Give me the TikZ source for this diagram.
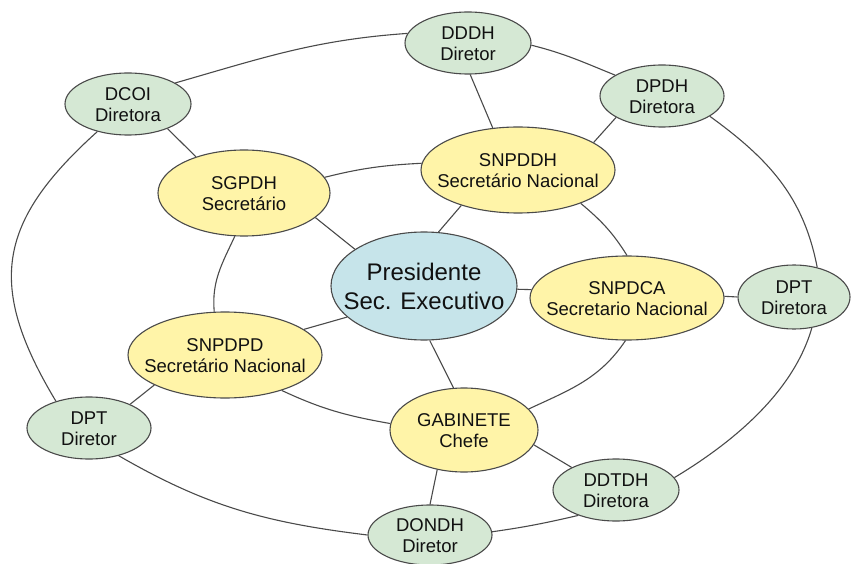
\documentclass[tikz,border=0pt]{standalone}
\usepackage{fontspec}
\setmainfont{Liberation Sans}
\usetikzlibrary{shapes.geometric}
\definecolor{gfill}{HTML}{D5E8D4}
\definecolor{yfill}{HTML}{FFF4A8}
\definecolor{bfill}{HTML}{C6E4EA}
\definecolor{edgec}{HTML}{4A4A4A}
\definecolor{txtc}{HTML}{111111}
\newcommand\mytwo[3][-7pt]{\makebox[0pt]{\raisebox{#1}[0pt][0pt]{\begin{tabular}{@{}c@{}}#2\\#3\end{tabular}}}}
\begin{document}
\begin{tikzpicture}[x=1pt,y=1pt,
  base/.style={ellipse, draw=edgec, line width=1.1pt, inner sep=0pt, text=txtc,
    font=\fontsize{18.5}{21}\selectfont},
  gnode/.style={base, fill=gfill, minimum width=126pt, minimum height=62pt},
  ynode/.style={base, fill=yfill, minimum width=194pt, minimum height=86pt},
  bnode/.style={base, fill=bfill, minimum width=186pt, minimum height=108pt,
    font=\fontsize{24}{29}\selectfont},
  link/.style={draw=edgec, line width=1.1pt}]
\useasboundingbox (0,0) rectangle (851,563);
\fill[white] (0,0) rectangle (851,563);

% nodes
\node[gnode] (dddh) at (468,520) {\mytwo{DDDH}{Diretor}};
\node[gnode, minimum width=124pt] (dpdh) at (662,467) {\mytwo{DPDH}{Diretora}};
\node[gnode] (dcoi) at (128,459) {\mytwo{DCOI}{Diretora}};
\node[ynode, minimum width=172pt] (sgpdh) at (244,370) {\mytwo{SGPDH}{Secretário}};
\node[ynode] (snpddh) at (518,393) {\mytwo{SNPDDH}{Secretário Nacional}};
\node[bnode] (pres) at (424,277) {\mytwo[-9.5pt]{Presidente}{Sec. Executivo}};
\node[ynode, minimum height=84pt] (snpdca) at (627,265) {\mytwo{SNPDCA}{Secretario Nacional}};
\node[gnode, minimum width=112pt, minimum height=64pt] (dptr) at (794,266) {\mytwo{DPT}{Diretora}};
\node[ynode] (snpdpd) at (225,208) {\mytwo{SNPDPD}{Secretário Nacional}};
\node[gnode, minimum width=124pt] (dptl) at (89,135) {\mytwo{DPT}{Diretor}};
\node[ynode, minimum width=148pt, minimum height=84pt] (gab) at (464,133) {\mytwo{GABINETE}{Chefe}};
\node[gnode] (ddtdh) at (616,73) {\mytwo{DDTDH}{Diretora}};
\node[gnode, minimum width=124pt, minimum height=60pt] (dondh) at (430,28) {\mytwo{DONDH}{Diretor}};

% outer ring
\draw[link] (dcoi.24) to[out=16,in=184] (dddh.171);
\draw[link] (dddh.-2) to[out=-14,in=158] (dpdh.156);
\draw[link] (dpdh.-23) to[out=-36,in=101] (dptr.52);
\draw[link] (dptr.-60) to[out=-106,in=31,looseness=0.85] (ddtdh.12);
\draw[link] (ddtdh.214) to[out=193,in=8] (dondh.3);
\draw[link] (dondh.180) to[out=173,in=-30] (dptl.-43);
\draw[link] (dptl.141) to[out=121,in=222,looseness=1.27] (dcoi.222);

% middle ring
\draw[link] (sgpdh.11) to[out=14,in=183] (snpddh.176);
\draw[link] (snpddh.-28) to[out=-40,in=122] (snpdca.90);
\draw[link] (snpdca.-92) to[out=-124,in=25] (gab.18);
\draw[link] (gab.175) to[out=170,in=-25] (snpdpd.-32);
\draw[link] (snpdpd.104) to[out=95,in=245] (sgpdh.258);

% spokes from centre
\draw[link] (pres.152) -- (sgpdh.-19);
\draw[link] (pres.75) -- (snpddh.212);
\draw[link] (pres.-2) -- (snpdca.175);
\draw[link] (pres.-84) -- (gab.104);
\draw[link] (pres.202) -- (snpdpd.18);

% secondary spokes
\draw[link] (dcoi.-32) -- (sgpdh.143);
\draw[link] (dddh.-86) -- (snpddh.121);
\draw[link] (dpdh.205) -- (snpddh.20);
\draw[link] (snpdca.1) -- (dptr.180);
\draw[link] (gab.-12) -- (ddtdh.153);
\draw[link] (gab.236) -- (dondh.90);
\draw[link] (dptl.30) -- (snpdpd.203);
\end{tikzpicture}
\end{document}
